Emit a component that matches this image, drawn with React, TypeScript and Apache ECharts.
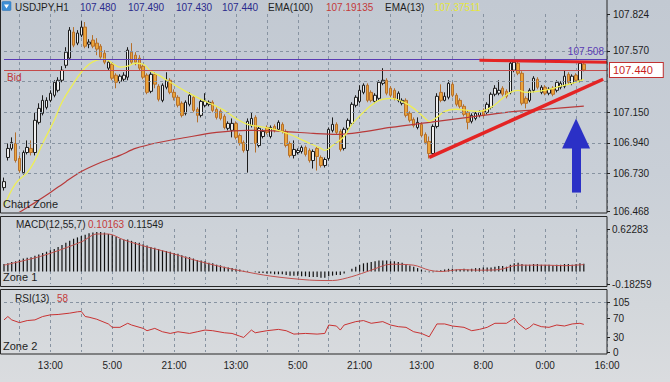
import React, { useEffect, useRef } from "react";
import * as echarts from "echarts";

const symbolName = "USDJPY";
const timeframe = "H1";

// hourly bars: [open, high, low, close]
const ohlc: number[][] = [
  [106.632, 106.701, 106.612, 106.673], [106.839, 106.935, 106.818, 106.901], [106.901, 106.977, 106.887, 106.942],
  [106.935, 107.011, 106.804, 106.818], [106.832, 106.853, 106.735, 106.749], [106.735, 106.887, 106.722, 106.873],
  [106.873, 106.956, 106.860, 106.908], [106.901, 106.956, 106.853, 106.873], [106.873, 107.149, 106.853, 107.094],
  [107.080, 107.211, 107.066, 107.176], [107.142, 107.266, 107.128, 107.231], [107.183, 107.252, 107.169, 107.231],
  [107.231, 107.300, 107.218, 107.280], [107.266, 107.369, 107.252, 107.355], [107.300, 107.390, 107.286, 107.369],
  [107.369, 107.466, 107.355, 107.438], [107.472, 107.596, 107.452, 107.562], [107.521, 107.734, 107.507, 107.713],
  [107.700, 107.734, 107.596, 107.610], [107.624, 107.713, 107.610, 107.693], [107.679, 107.775, 107.665, 107.734],
  [107.734, 107.769, 107.589, 107.603], [107.617, 107.651, 107.589, 107.631], [107.645, 107.679, 107.589, 107.603],
  [107.624, 107.658, 107.541, 107.583], [107.603, 107.617, 107.514, 107.528], [107.555, 107.576, 107.479, 107.493],
  [107.452, 107.507, 107.438, 107.493], [107.479, 107.493, 107.369, 107.383], [107.404, 107.417, 107.314, 107.355],
  [107.362, 107.410, 107.348, 107.397], [107.376, 107.424, 107.362, 107.404], [107.390, 107.596, 107.369, 107.576],
  [107.562, 107.624, 107.479, 107.493], [107.541, 107.562, 107.472, 107.493], [107.521, 107.541, 107.438, 107.452],
  [107.465, 107.479, 107.376, 107.390], [107.404, 107.417, 107.273, 107.286], [107.293, 107.424, 107.280, 107.410],
  [107.410, 107.424, 107.314, 107.342], [107.328, 107.342, 107.224, 107.238], [107.231, 107.348, 107.218, 107.335],
  [107.321, 107.424, 107.307, 107.369], [107.369, 107.383, 107.273, 107.286], [107.286, 107.307, 107.231, 107.252],
  [107.252, 107.266, 107.183, 107.197], [107.211, 107.224, 107.114, 107.128], [107.142, 107.231, 107.128, 107.218],
  [107.204, 107.286, 107.190, 107.266], [107.252, 107.266, 107.149, 107.162], [107.169, 107.183, 107.080, 107.128],
  [107.128, 107.238, 107.114, 107.224], [107.197, 107.280, 107.183, 107.224], [107.204, 107.231, 107.190, 107.218],
  [107.218, 107.231, 107.149, 107.162], [107.169, 107.183, 107.100, 107.114], [107.156, 107.169, 107.094, 107.107],
  [107.121, 107.135, 107.032, 107.045], [107.039, 107.087, 107.025, 107.073], [107.025, 107.107, 106.977, 107.073],
  [107.073, 107.087, 106.963, 106.977], [106.990, 107.004, 106.921, 106.935], [106.942, 106.956, 106.873, 106.887],
  [106.887, 107.107, 106.735, 107.087], [107.059, 107.149, 107.045, 107.107], [107.114, 107.128, 106.873, 106.935],
  [106.921, 107.052, 106.908, 107.039], [106.983, 107.032, 106.970, 107.018], [107.045, 107.059, 106.997, 107.011],
  [106.983, 107.059, 106.970, 107.045], [107.052, 107.066, 107.011, 107.025], [107.032, 107.094, 107.018, 107.080],
  [107.066, 107.080, 107.004, 107.018], [107.018, 107.032, 106.908, 106.921], [106.935, 106.949, 106.839, 106.853],
  [106.853, 106.956, 106.832, 106.894], [106.873, 106.901, 106.860, 106.887], [106.880, 106.921, 106.866, 106.908],
  [106.908, 106.921, 106.846, 106.860], [106.887, 106.901, 106.804, 106.818], [106.818, 106.894, 106.763, 106.880],
  [106.901, 106.915, 106.749, 106.846], [106.839, 106.853, 106.770, 106.784], [106.784, 106.839, 106.770, 106.825],
  [106.832, 107.045, 106.818, 107.032], [107.025, 107.114, 107.011, 107.066], [107.066, 107.080, 106.997, 107.011],
  [107.018, 107.032, 106.880, 106.894], [106.901, 107.045, 106.887, 107.032], [107.039, 107.107, 107.025, 107.094],
  [107.073, 107.218, 107.059, 107.204], [107.197, 107.266, 107.183, 107.252], [107.224, 107.335, 107.211, 107.300],
  [107.286, 107.348, 107.273, 107.335], [107.335, 107.348, 107.218, 107.231], [107.286, 107.300, 107.218, 107.231],
  [107.224, 107.280, 107.211, 107.266], [107.245, 107.369, 107.231, 107.355], [107.348, 107.452, 107.335, 107.369],
  [107.369, 107.383, 107.266, 107.280], [107.314, 107.328, 107.252, 107.266], [107.300, 107.314, 107.231, 107.245],
  [107.231, 107.293, 107.218, 107.280], [107.211, 107.245, 107.197, 107.231], [107.231, 107.245, 107.114, 107.128],
  [107.142, 107.156, 107.080, 107.094], [107.100, 107.114, 107.045, 107.059], [107.045, 107.114, 107.032, 107.080],
  [107.066, 107.080, 106.977, 106.990], [106.997, 107.011, 106.928, 106.942], [106.949, 106.983, 106.832, 106.866],
  [106.866, 107.066, 106.853, 107.052], [107.052, 107.280, 107.039, 107.259], [107.286, 107.341, 107.218, 107.231],
  [107.231, 107.286, 107.224, 107.259], [107.252, 107.369, 107.238, 107.348], [107.341, 107.355, 107.252, 107.266],
  [107.266, 107.280, 107.190, 107.204], [107.231, 107.245, 107.176, 107.190], [107.190, 107.204, 107.121, 107.135],
  [107.149, 107.162, 107.032, 107.080], [107.087, 107.142, 107.073, 107.128], [107.107, 107.156, 107.094, 107.142],
  [107.128, 107.162, 107.114, 107.149], [107.162, 107.176, 107.114, 107.128], [107.149, 107.218, 107.135, 107.204],
  [107.183, 107.286, 107.169, 107.273], [107.273, 107.335, 107.259, 107.314], [107.280, 107.369, 107.266, 107.300],
  [107.314, 107.328, 107.259, 107.273], [107.293, 107.307, 107.245, 107.259], [107.286, 107.507, 107.273, 107.486],
  [107.438, 107.514, 107.424, 107.493], [107.486, 107.500, 107.404, 107.417], [107.417, 107.431, 107.197, 107.211],
  [107.245, 107.259, 107.176, 107.211], [107.231, 107.314, 107.218, 107.300], [107.300, 107.397, 107.286, 107.383],
  [107.376, 107.390, 107.307, 107.321], [107.286, 107.335, 107.273, 107.321], [107.321, 107.335, 107.266, 107.280],
  [107.280, 107.321, 107.266, 107.307], [107.314, 107.328, 107.259, 107.273], [107.300, 107.369, 107.286, 107.355],
  [107.321, 107.362, 107.307, 107.348], [107.328, 107.438, 107.314, 107.397], [107.410, 107.424, 107.341, 107.355],
  [107.348, 107.410, 107.335, 107.397], [107.404, 107.417, 107.355, 107.369], [107.369, 107.500, 107.355, 107.486],
  [107.480, 107.490, 107.430, 107.440],
];

// [bar index, value]
const ema13: number[][] = [
  [0, 106.501], [3, 106.660], [6, 106.735], [8, 106.818], [10, 106.935], [13, 107.094], [15, 107.218], [18, 107.348],
  [20, 107.424], [22, 107.479], [24, 107.507], [26, 107.514], [28, 107.486], [30, 107.459], [32, 107.466], [34, 107.486],
  [36, 107.479], [38, 107.431], [40, 107.404], [43, 107.355], [47, 107.293], [51, 107.238], [55, 107.190], [57, 107.162],
  [60, 107.107], [63, 107.066], [66, 107.052], [70, 107.032], [74, 106.997], [78, 106.949], [82, 106.901], [83, 106.887],
  [85, 106.921], [88, 106.983], [90, 107.066], [93, 107.149], [95, 107.197], [97, 107.231], [100, 107.245], [103, 107.224],
  [106, 107.176], [109, 107.107], [110, 107.087], [112, 107.114], [114, 107.156], [117, 107.170], [120, 107.162],
  [123, 107.156], [126, 107.183], [129, 107.245], [131, 107.286], [133, 107.300], [135, 107.286], [138, 107.293],
  [141, 107.307], [144, 107.328], [147, 107.348], [150, 107.37511],
];

const ema100: number[][] = [
  [0, 106.398], [8, 106.529], [12, 106.598], [16, 106.673], [20, 106.742], [25, 106.804], [30, 106.853], [34, 106.901],
  [40, 106.942], [47, 106.976], [55, 107.011], [63, 107.025], [72, 107.018], [80, 107.004], [86, 106.997], [92, 107.011],
  [100, 107.045], [110, 107.080], [120, 107.114], [130, 107.149], [140, 107.170], [150, 107.19135],
];

const macdHist: number[] = [
  0.11, 0.12, 0.14, 0.15, 0.17, 0.19, 0.20, 0.21, 0.23, 0.25, 0.27,
  0.29, 0.31, 0.33, 0.36, 0.39, 0.42, 0.45, 0.48, 0.50, 0.52,
  0.54, 0.56, 0.57, 0.58, 0.58, 0.57, 0.55, 0.53, 0.51, 0.48,
  0.47, 0.47, 0.45, 0.43, 0.42, 0.40, 0.38, 0.36, 0.35, 0.33,
  0.31, 0.30, 0.29, 0.27, 0.26, 0.24, 0.22, 0.21, 0.19, 0.17,
  0.16, 0.15, 0.13, 0.12, 0.10, 0.09, 0.07, 0.06, 0.05, 0.04,
  0.03, 0.01, 0.01, 0.00, -0.01, -0.02, -0.02, -0.03, -0.03, -0.04,
  -0.04, -0.04, -0.05, -0.06, -0.06, -0.06, -0.07, -0.07, -0.08, -0.08,
  -0.08, -0.09, -0.09, -0.07, -0.06, -0.05, -0.05, -0.03, 0.00, 0.04,
  0.07, 0.10, 0.12, 0.13, 0.14, 0.15, 0.16, 0.16, 0.16, 0.15,
  0.15, 0.14, 0.13, 0.11, 0.09, 0.07, 0.05, 0.03, 0.01, -0.01,
  -0.01, 0.01, 0.02, 0.03, 0.04, 0.04, 0.03, 0.03, 0.04, 0.03,
  0.04, 0.05, 0.05, 0.06, 0.06, 0.06, 0.07, 0.08, 0.08, 0.07,
  0.10, 0.12, 0.13, 0.11, 0.10, 0.10, 0.11, 0.11, 0.10, 0.10,
  0.10, 0.09, 0.10, 0.10, 0.11, 0.11, 0.10, 0.11, 0.12, 0.11549,
];

const macdSignal: number[][] = [
  [0, 0.093], [10, 0.231], [20, 0.434], [24, 0.550], [27, 0.550], [31, 0.463], [37, 0.361], [42, 0.289], [49, 0.173],
  [55, 0.086], [61, 0.013], [69, -0.067], [79, -0.125], [85, -0.132], [90, -0.074], [95, 0.020], [100, 0.107],
  [106, 0.093], [110, 0.020], [113, 0.000], [118, 0.028], [123, 0.020], [128, 0.028], [133, 0.093], [140, 0.093],
  [145, 0.086], [150, 0.10163],
];

const rsi13: number[][] = [
  [0, 67.4], [1, 74.5], [2, 67.4], [4, 61.7], [6, 66.0], [8, 67.4], [10, 74.5], [12, 78.0], [14, 78.8], [17, 81.6],
  [19, 84.4], [20, 85.1], [21, 74.5], [22, 73.1], [24, 68.8], [27, 58.9], [28, 51.8], [30, 51.8], [32, 60.3], [33, 56.7],
  [36, 49.6], [37, 44.7], [39, 49.6], [41, 42.5], [43, 39.0], [45, 42.5], [48, 39.0], [50, 42.5], [52, 46.1], [54, 44.7],
  [57, 40.4], [59, 39.0], [61, 33.3], [62, 30.5], [64, 46.1], [65, 40.4], [68, 44.7], [71, 47.5], [73, 44.7], [75, 37.6],
  [78, 39.0], [81, 37.6], [83, 39.0], [84, 56.7], [86, 54.6], [87, 46.1], [88, 56.7], [91, 63.8], [93, 66.0], [95, 60.3],
  [98, 63.8], [100, 56.7], [102, 53.2], [104, 51.8], [106, 42.5], [108, 39.0], [110, 31.9], [112, 58.9], [114, 58.9],
  [116, 54.6], [119, 51.8], [121, 44.7], [123, 47.5], [125, 51.8], [127, 60.3], [130, 60.3], [132, 71.0], [133, 60.3],
  [135, 47.5], [136, 51.8], [137, 58.9], [139, 53.2], [141, 51.8], [143, 56.7], [145, 54.6], [147, 58.9], [149, 60.3],
  [150, 58],
];

const priceMin = 106.468;
const priceMax = 107.824;
const priceTicks = [106.468, 106.73, 106.94, 107.15, 107.57, 107.824];
const priceGrid = [106.73, 106.94, 107.15, 107.36, 107.57];
const macdMin = -0.18259;
const macdMax = 0.62283;
const macdTicks = [-0.18259, 0.62283];
const rsiTicks = [0, 30, 70, 105];
const rsiGrid = [105];
const categoryCount = 157;
const timeLabelIndex = [12, 28, 44, 60, 76, 92, 108, 124, 140, 156];
const timeLabels = ["13:00", "5:00", "21:00", "13:00", "5:00", "21:00", "13:00", "8:00", "0:00", "16:00"];

const askPrice = 107.508;
const bidPrice = 107.44;
const resistanceLine = [[123, 107.507], [156, 107.493]];
const supportLine = [[110, 106.839], [155, 107.376]];
const arrowLine = [[148, 106.598], [148, 107.004]];

const FONT = '"Liberation Sans", Arial, sans-serif';

export default function App() {
  const ref = useRef<HTMLDivElement>(null);

  useEffect(() => {
    if (!ref.current) return;
    const chart = echarts.init(ref.current, undefined, { renderer: "svg" });
    const categories = Array.from({ length: categoryCount }, (_, i) => String(i));
    const labelAt = new Map<number, string>(timeLabelIndex.map((idx, k) => [idx, timeLabels[k]]));
    const candleData = ohlc.map(([o, h, l, c]) => [o, c, l, h]);
    const last = ohlc[ohlc.length - 1];
    const lastEma100 = ema100[ema100.length - 1][1];
    const lastEma13 = ema13[ema13.length - 1][1];
    const lastSignal = macdSignal[macdSignal.length - 1][1];
    const lastHist = macdHist[macdHist.length - 1];
    const lastRsi = rsi13[rsi13.length - 1][1];

    const gridLineStyle = { color: "#8793a1", type: [3, 3], width: 1 };

    const xAxisFor = (g: number) => ({
      type: "category",
      gridIndex: g,
      data: categories,
      boundaryGap: false,
      axisLine: { show: false },
      axisTick: { show: false },
      axisLabel:
        g === 2
          ? {
              show: true,
              interval: (index: number) => labelAt.has(index),
              formatter: (_v: string, index: number) => labelAt.get(index) ?? "",
              color: "#1e1e1e",
              fontSize: 10,
              fontFamily: FONT,
              margin: 8,
            }
          : { show: false },
      splitLine: {
        show: true,
        interval: (index: number) => index % 8 === 4,
        lineStyle: gridLineStyle,
      },
    });

    const yAxisBase = {
      type: "value",
      position: "right",
      axisLine: { show: false },
      splitLine: { show: false },
    };

    const txt = (text: string, x: number, y: number, fill: string, size = 10) => ({
      type: "text",
      x,
      y,
      z: 100,
      silent: true,
      style: { text, fill, fontSize: size, fontFamily: FONT, verticalAlign: "middle" },
    });

    const frame = (y: number, h: number) => ({
      type: "rect",
      z: 50,
      silent: true,
      shape: { x: 0.5, y, width: 606.5, height: h },
      style: { fill: "none", stroke: "#262626", lineWidth: 1 },
    });

    const option: any = {
      animation: false,
      backgroundColor: "transparent",
      grid: [
        { left: 4, right: 63, top: 14, height: 197.5 },
        { left: 4, right: 63, top: 229, height: 55 },
        { left: 4, right: 63, top: 302, height: 50 },
      ],
      xAxis: [xAxisFor(0), xAxisFor(1), xAxisFor(2)],
      yAxis: [
        {
          ...yAxisBase,
          gridIndex: 0,
          min: priceMin,
          max: priceMax,
          axisTick: { show: true, length: 3, customValues: priceTicks, lineStyle: { color: "#222" } },
          axisLabel: {
            customValues: priceTicks,
            formatter: (v: number) => v.toFixed(3),
            color: "#1e1e1e",
            fontSize: 10,
            fontFamily: FONT,
            margin: 6,
          },
        },
        {
          ...yAxisBase,
          gridIndex: 1,
          min: macdMin,
          max: macdMax,
          axisTick: { show: true, length: 3, customValues: macdTicks, lineStyle: { color: "#222" } },
          axisLabel: {
            customValues: macdTicks,
            formatter: (v: number) => v.toFixed(5),
            color: "#1e1e1e",
            fontSize: 10,
            fontFamily: FONT,
            margin: 5,
          },
        },
        {
          ...yAxisBase,
          gridIndex: 2,
          min: 0,
          max: 105,
          axisTick: { show: true, length: 3, customValues: rsiTicks, lineStyle: { color: "#222" } },
          axisLabel: {
            customValues: rsiTicks,
            formatter: (v: number) => String(Math.round(v)),
            color: "#1e1e1e",
            fontSize: 10,
            fontFamily: FONT,
            margin: 6,
          },
        },
      ],
      series: [
        {
          type: "line",
          name: "grid",
          xAxisIndex: 0,
          yAxisIndex: 0,
          data: [],
          z: 1,
          markLine: {
            silent: true,
            symbol: ["none", "none"],
            animation: false,
            label: { show: false },
            lineStyle: gridLineStyle,
            data: [
              ...priceGrid.map((v) => ({ yAxis: v })),
              {
                yAxis: askPrice,
                lineStyle: { color: "#5a3cb4", width: 1, type: "solid" },
                label: {
                  show: true,
                  position: "insideEndTop",
                  formatter: askPrice.toFixed(3),
                  color: "#5a3cb4",
                  fontSize: 10,
                  fontFamily: FONT,
                  distance: 3,
                },
              },
              {
                yAxis: bidPrice,
                lineStyle: { color: "#c44a4a", width: 1, type: "solid" },
                label: {
                  show: true,
                  position: "insideStartBottom",
                  formatter: "Bid",
                  color: "#c03838",
                  fontSize: 10,
                  fontFamily: FONT,
                  distance: 3,
                },
              },
            ],
          },
        },
        {
          type: "line",
          name: "bidTag",
          xAxisIndex: 0,
          yAxisIndex: 0,
          data: [],
          z: 7,
          markLine: {
            silent: true,
            symbol: ["none", "none"],
            animation: false,
            lineStyle: { color: "rgba(0,0,0,0)", width: 1, type: "solid" },
            label: {
              show: true,
              position: "end",
              formatter: bidPrice.toFixed(3),
              color: "#c81e1e",
              backgroundColor: "#ffffff",
              borderColor: "#c03030",
              borderWidth: 1,
              padding: [2, 10, 1, 3],
              fontSize: 11,
              fontFamily: FONT,
              distance: 3,
            },
            data: [{ yAxis: bidPrice }],
          },
        },
        {
          type: "candlestick",
          xAxisIndex: 0,
          yAxisIndex: 0,
          data: candleData,
          barWidth: 3,
          z: 3,
          itemStyle: {
            color: "#f0f0f0",
            color0: "#eba43a",
            borderColor: "#1c1c1c",
            borderColor0: "#b5702c",
            borderWidth: 1,
          },
        },
        {
          type: "line",
          xAxisIndex: 0,
          yAxisIndex: 0,
          data: ema100,
          symbol: "none",
          smooth: 0.3,
          z: 4,
          lineStyle: { color: "#b83a3a", width: 1.2 },
        },
        {
          type: "line",
          xAxisIndex: 0,
          yAxisIndex: 0,
          data: ema13,
          symbol: "none",
          smooth: 0.4,
          z: 4,
          lineStyle: { color: "#eeee55", width: 1.3 },
        },
        {
          type: "line",
          xAxisIndex: 0,
          yAxisIndex: 0,
          data: [],
          z: 6,
          markLine: {
            silent: true,
            symbol: ["none", "none"],
            animation: false,
            label: { show: false },
            data: [
              [
                { coord: resistanceLine[0], lineStyle: { color: "#e42424", width: 3, type: "solid" } },
                { coord: resistanceLine[1] },
              ],
              [
                { coord: supportLine[0], lineStyle: { color: "#e42424", width: 3.5, type: "solid" } },
                { coord: supportLine[1] },
              ],
              [
                { coord: arrowLine[0], symbol: "none", lineStyle: { color: "#2b30c6", width: 9, type: "solid", cap: "butt" } },
                { coord: arrowLine[1], symbol: "triangle", symbolSize: [28, 30], itemStyle: { color: "#2b30c6" } },
              ],
            ],
          },
        },
        {
          type: "bar",
          xAxisIndex: 1,
          yAxisIndex: 1,
          data: macdHist,
          barWidth: 1.2,
          itemStyle: { color: "#111111" },
          z: 3,
        },
        {
          type: "line",
          xAxisIndex: 1,
          yAxisIndex: 1,
          data: macdSignal,
          symbol: "none",
          smooth: 0.3,
          z: 4,
          lineStyle: { color: "#c0504d", width: 1 },
        },
        {
          type: "line",
          xAxisIndex: 2,
          yAxisIndex: 2,
          data: rsi13,
          symbol: "none",
          z: 4,
          lineStyle: { color: "#c83232", width: 1 },
          markLine: {
            silent: true,
            symbol: ["none", "none"],
            animation: false,
            label: { show: false },
            lineStyle: gridLineStyle,
            data: rsiGrid.map((v) => ({ yAxis: v })),
          },
        },
      ],
      graphic: [
        frame(-2, 215),
        frame(216.5, 70),
        frame(289.5, 64.5),
        {
          type: "rect",
          z: 100,
          silent: true,
          shape: { x: 2, y: 1.5, width: 9, height: 9, r: 1 },
          style: { fill: "#3d8ed6", stroke: "#2a6fb0", lineWidth: 0.5 },
        },
        {
          type: "polygon",
          z: 101,
          silent: true,
          shape: { points: [[4, 4.5], [9, 4.5], [6.5, 8.5]] },
          style: { fill: "#ffffff" },
        },
        txt(`${symbolName},${timeframe}`, 15, 7, "#1e1e1e"),
        txt(last[0].toFixed(3), 80, 7, "#2a2a8c"),
        txt(last[1].toFixed(3), 128, 7, "#2a2a8c"),
        txt(last[2].toFixed(3), 176, 7, "#2a2a8c"),
        txt(last[3].toFixed(3), 222, 7, "#2a2a8c"),
        txt("EMA(100)", 268, 7, "#1e1e1e"),
        txt(lastEma100.toFixed(5), 326, 7, "#c43a3a"),
        txt("EMA(13)", 385, 7, "#1e1e1e"),
        txt(lastEma13.toFixed(5), 434, 7, "#e6e640"),
        txt("Chart Zone", 3, 204, "#1e1e1e", 11),
        txt("MACD(12,55,7)", 16, 224, "#1e1e1e"),
        txt(lastSignal.toFixed(5), 88, 224, "#c43a3a"),
        txt(lastHist.toFixed(5), 128, 224, "#1e1e1e"),
        txt("Zone 1", 3, 277, "#1e1e1e", 11),
        txt("RSI(13)", 15, 298, "#1e1e1e"),
        txt(String(Math.round(lastRsi)), 57, 298, "#c43a3a"),
        txt("Zone 2", 3, 346, "#1e1e1e", 11),
      ],
    };

    chart.setOption(option);
    return () => chart.dispose();
  }, []);

  return (
    <div
      ref={ref}
      style={{
        position: "absolute",
        left: 0,
        top: 0,
        width: 670,
        height: 382,
        background: "linear-gradient(180deg, #c2c9d2 0%, #c9cfd7 45%, #d3d7db 80%, #dadcdf 100%)",
      }}
    />
  );
}
